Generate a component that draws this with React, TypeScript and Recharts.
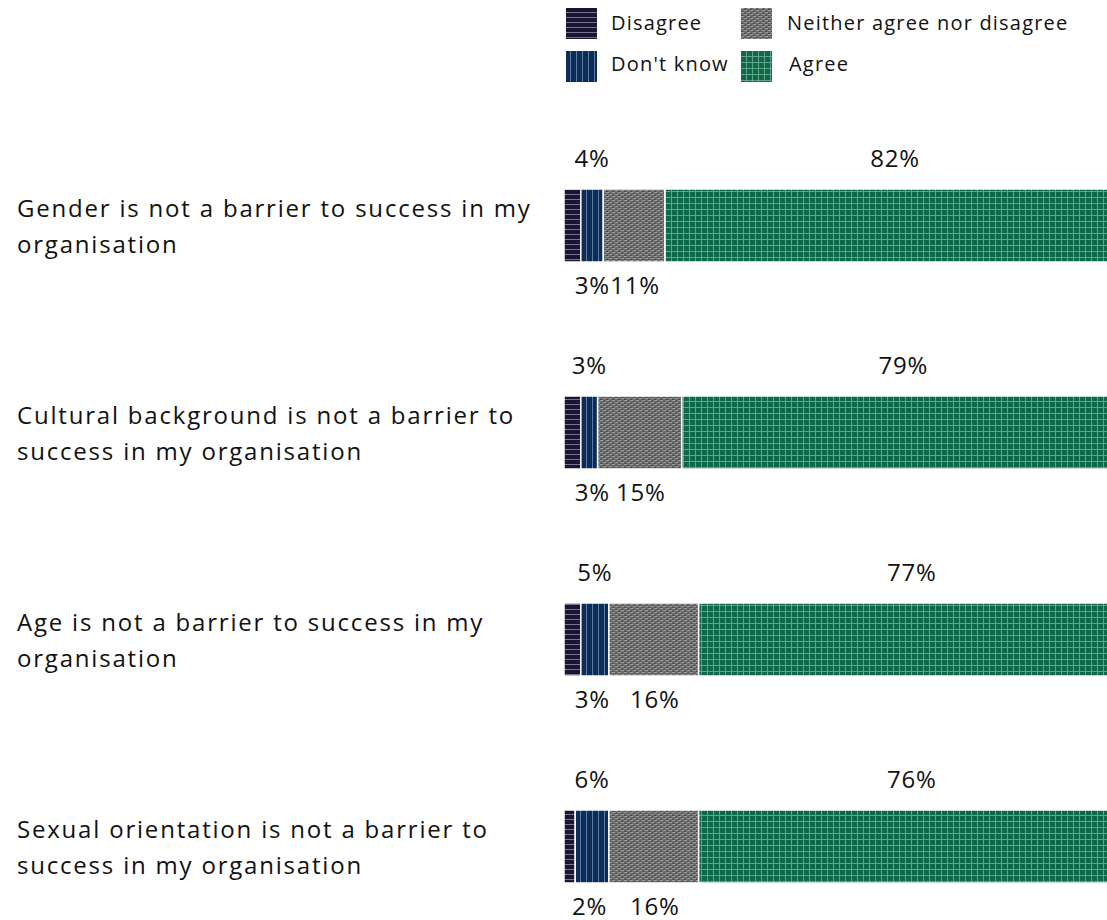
import React from 'react';
import { BarChart, Bar, XAxis, YAxis, Legend, LabelList } from 'recharts';

const categories = [
  'Gender is not a barrier to success in my|organisation',
  'Cultural background is not a barrier to|success in my organisation',
  'Age is not a barrier to success in my|organisation',
  'Sexual orientation is not a barrier to|success in my organisation',
];
const disagree = [3, 3, 3, 2];
const dontKnow = [4, 3, 5, 6];
const neither = [11, 15, 16, 16];
const agree = [82, 79, 77, 76];

const seriesNames = ['Disagree', "Don't know", 'Neither agree nor disagree', 'Agree'];

const data = categories.map((c, i) => ({
  category: c,
  disagree: disagree[i],
  dontKnow: dontKnow[i],
  neither: neither[i],
  agree: agree[i],
}));

const FONT = '"Open Sans", sans-serif';

const CategoryTick = (props: any) => {
  const { y, payload } = props;
  const lines = String(payload.value).split('|');
  return (
    <text x={17} y={y} fontFamily={FONT} fontSize={24} letterSpacing={1.8} fill="#111" textAnchor="start">
      {lines.map((l, i) => (
        <tspan key={i} x={17} y={y - 17 + i * 36} dy="0.35em">{l}</tspan>
      ))}
    </text>
  );
};

const makeLabel = (pos: 'top' | 'bottom', dx: number) => (props: any) => {
  const { x, y, width, height, value } = props;
  const cx = x + width / 2 + dx;
  const cy = pos === 'top' ? y - 30 : y + height + 24;
  return (
    <text x={cx} y={cy} dy="0.35em" textAnchor="middle" fontFamily={FONT} fontSize={24} letterSpacing={0.8} fill="#111">
      {value}%
    </text>
  );
};

const swatch = (id: string) => (
  <svg width={31} height={31} style={{ display: 'block' }}>
    <rect x={0} y={0} width={31} height={31} fill={`url(#${id})`} />
  </svg>
);

const LegendContent = () => {
  const item = (id: string, name: string, left: number, top: number, textLeft: number, textDy: number) => (
    <div style={{ position: 'absolute', left, top, display: 'flex', alignItems: 'center' }}>
      <div style={{ width: 31, height: 31 }}>{swatch(id)}</div>
      <span style={{ position: 'absolute', left: textLeft, top: textDy, whiteSpace: 'nowrap', fontFamily: FONT, fontSize: 20, letterSpacing: 1.2, lineHeight: '31px', color: '#111' }}>{name}</span>
    </div>
  );
  return (
    <div style={{ position: 'relative', width: 540, height: 90 }}>
      {item('pDisagree', seriesNames[0], 0, 8, 45, -1)}
      {item('pDontKnow', seriesNames[1], 0, 51, 45, -3)}
      {item('pNeither', seriesNames[2], 175, 8, 46, -1)}
      {item('pAgree', seriesNames[3], 175, 51, 48, -3)}
    </div>
  );
};

export default function App() {
  return (
    <div style={{ position: 'fixed', left: 0, top: 0, width: 1107, height: 920, overflow: 'hidden', background: '#fff' }}>
      <BarChart
        width={1130}
        height={960}
        data={data}
        layout="vertical"
        margin={{ top: 122, right: 5, bottom: 10, left: 0 }}
        barCategoryGap={0}
      >
        <defs>
          <pattern id="pDisagree" width={5} height={5} patternUnits="userSpaceOnUse">
            <rect width={5} height={5} fill="#1b1534" />
            <rect y={4} width={5} height={1} fill="#76728e" />
          </pattern>
          <pattern id="pDontKnow" width={6} height={6} patternUnits="userSpaceOnUse">
            <rect width={6} height={6} fill="#0d2d57" />
            <rect x={4} width={1} height={6} fill="#5c7ca6" />
          </pattern>
          <pattern id="pNeither" width={6} height={4} patternUnits="userSpaceOnUse">
            <rect width={6} height={4} fill="#6c6c6c" />
            <rect x={0} y={0} width={3} height={1} fill="#9a9a9a" />
            <rect x={3} y={2} width={3} height={1} fill="#9a9a9a" />
            <rect x={3} y={1} width={2} height={1} fill="#4a4a4a" />
            <rect x={0} y={3} width={2} height={1} fill="#4a4a4a" />
          </pattern>
          <pattern id="pAgree" width={6} height={6} patternUnits="userSpaceOnUse">
            <rect width={6} height={6} fill="#0e684a" />
            <rect x={5} width={1} height={6} fill="#62a48a" />
            <rect y={5} width={6} height={1} fill="#62a48a" />
          </pattern>
        </defs>
        <XAxis type="number" domain={[0, 100]} allowDataOverflow hide />
        <YAxis
          type="category"
          dataKey="category"
          width={564}
          axisLine={false}
          tickLine={false}
          tick={<CategoryTick />}
        />
        <Legend
          verticalAlign="middle"
          align="center"
          content={<LegendContent />}
          wrapperStyle={{ position: 'absolute', left: 566, top: 0, width: 540, height: 90 }}
        />
        <Bar dataKey="disagree" name={seriesNames[0]} stackId="a" barSize={73} fill="url(#pDisagree)" stroke="#fff" strokeWidth={1.5} isAnimationActive={false}>
          <LabelList dataKey="disagree" content={makeLabel('bottom', 20)} />
        </Bar>
        <Bar dataKey="dontKnow" name={seriesNames[1]} stackId="a" barSize={73} fill="url(#pDontKnow)" stroke="#fff" strokeWidth={1.5} isAnimationActive={false}>
          <LabelList dataKey="dontKnow" content={makeLabel('top', 0)} />
        </Bar>
        <Bar dataKey="neither" name={seriesNames[2]} stackId="a" barSize={73} fill="url(#pNeither)" stroke="#fff" strokeWidth={1.5} isAnimationActive={false}>
          <LabelList dataKey="neither" content={makeLabel('bottom', 1)} />
        </Bar>
        <Bar dataKey="agree" name={seriesNames[3]} stackId="a" barSize={73} fill="url(#pAgree)" stroke="#fff" strokeWidth={1.5} isAnimationActive={false}>
          <LabelList dataKey="agree" content={makeLabel('top', 0)} />
        </Bar>
      </BarChart>
    </div>
  );
}
